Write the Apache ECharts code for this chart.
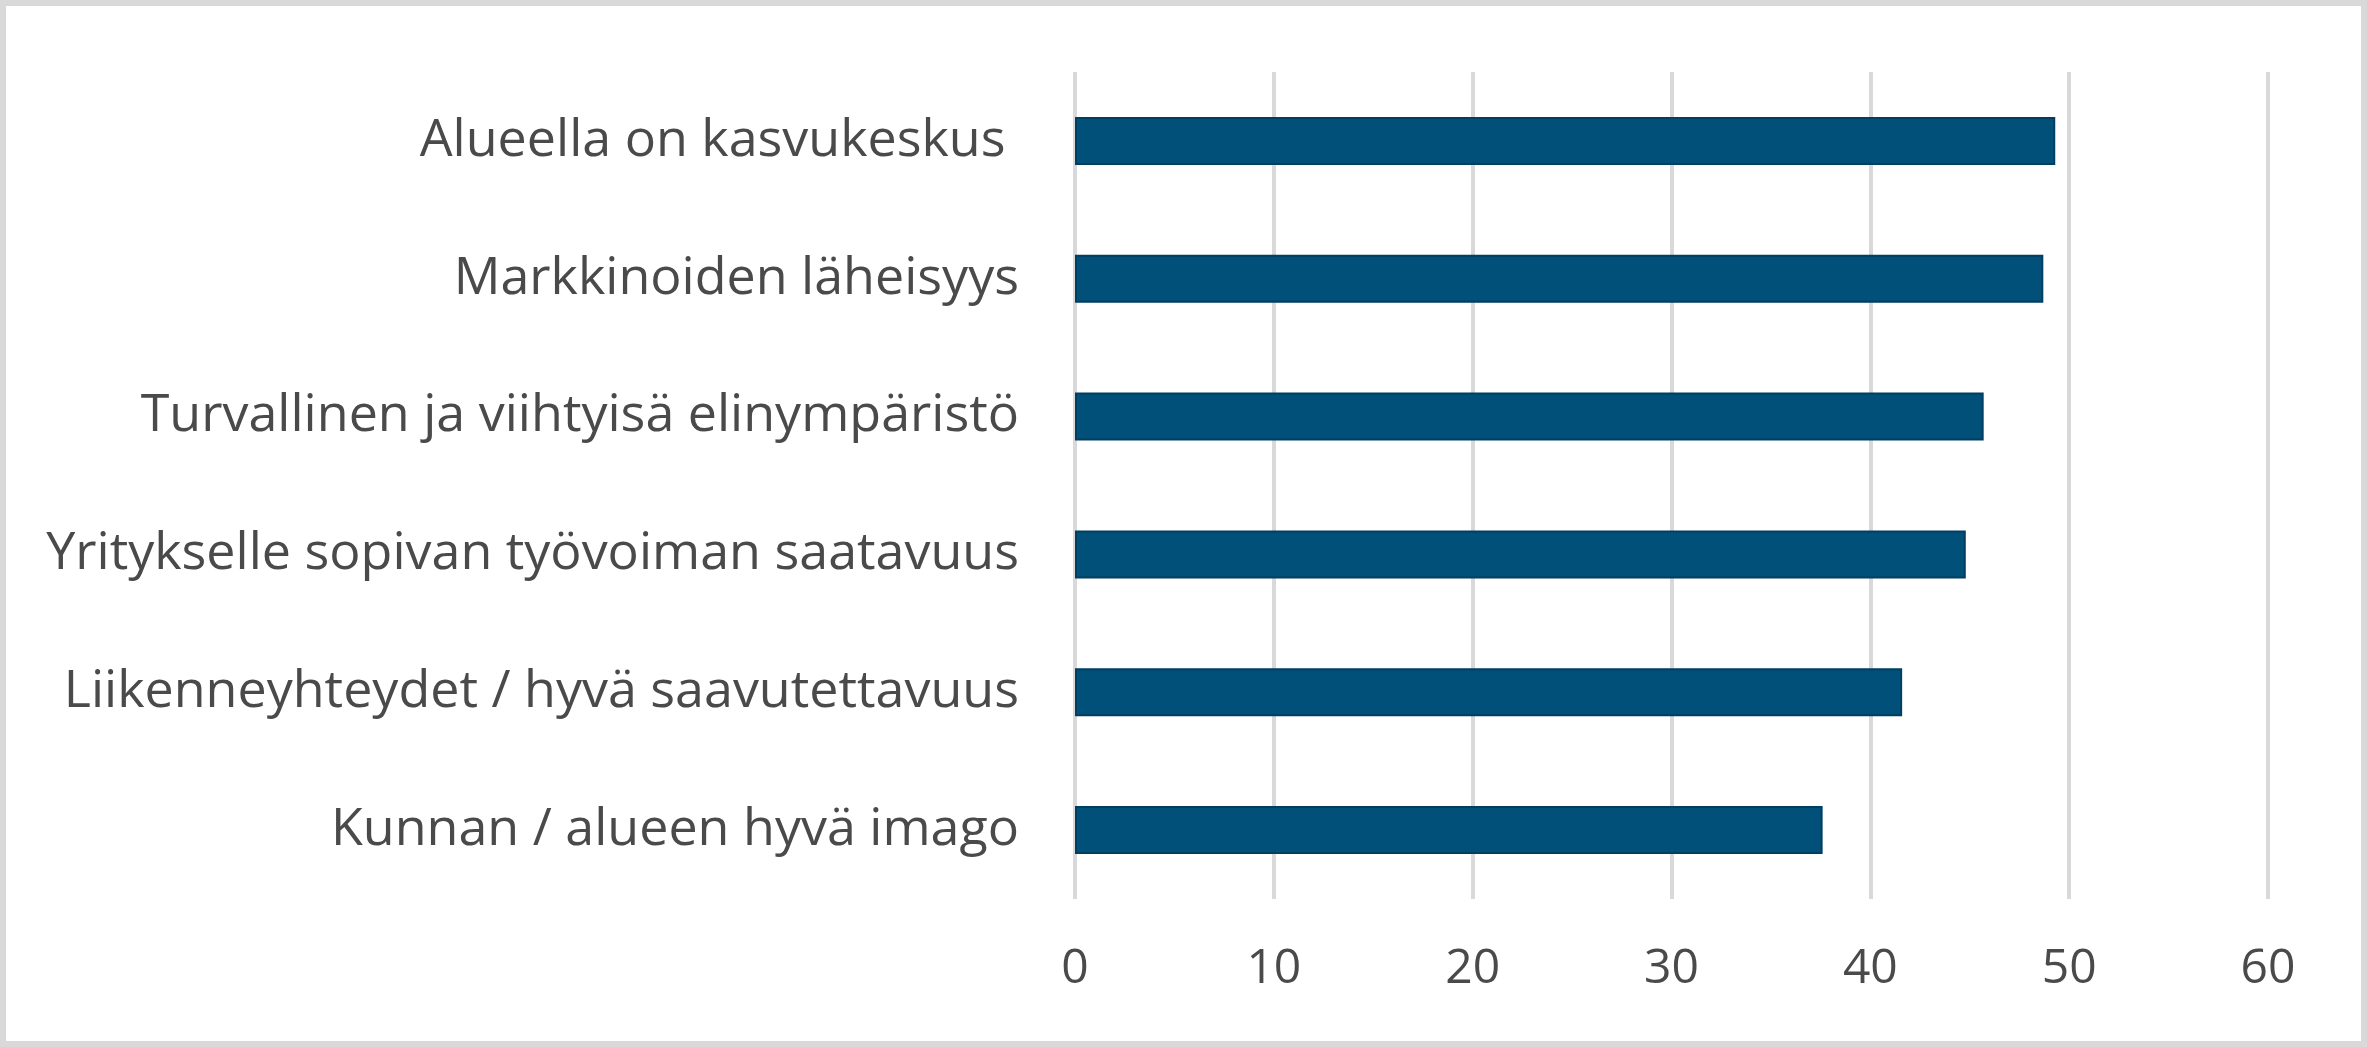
<!DOCTYPE html>
<html>
<head>
<meta charset="utf-8">
<script src="https://cdn.jsdelivr.net/npm/echarts@6/dist/echarts.min.js"></script>
<style>
html, body { margin: 0; padding: 0; background: #ffffff; }
#chart { width: 2367px; height: 1047px; }
</style>
</head>
<body>
<div id="chart"></div>
<script>
// kategoriat ylhäältä alas
var categories = [
	'Alueella on kasvukeskus ',
	'Markkinoiden läheisyys',
	'Turvallinen ja viihtyisä elinympäristö',
	'Yritykselle sopivan työvoiman saatavuus',
	'Liikenneyhteydet / hyvä saavutettavuus',
	'Kunnan / alueen hyvä imago'
];
var values = [49.3, 48.7, 45.7, 44.8, 41.6, 37.6];
var xTicks = [0, 10, 20, 30, 40, 50, 60];

var obj = echarts.init(document.getElementById('chart'));
var option = {
	animation : false,
	textStyle : {
		fontFamily : 'Open Sans'
	},
	graphic : [
		{
			type : 'rect',
			shape : { x : 3, y : 3, width : 2361, height : 1041 },
			style : { fill : 'none', stroke : '#d9d9d9', lineWidth : 6 },
			silent : true
		}
	],
	grid : {
		left : 1075,
		right : 99,
		top : 72,
		bottom : 148,
		containLabel : false
	},
	xAxis : {
		type : 'value',
		min : xTicks[0],
		max : xTicks[xTicks.length - 1],
		interval : 10,
		axisLine : { show : false },
		axisTick : { show : false },
		axisLabel : {
			color : '#4a4a4a',
			fontSize : 48,
			margin : 46,
			formatter : function(v) {
				return xTicks.indexOf(v) >= 0 ? String(v) : '';
			}
		},
		splitLine : {
			show : true,
			lineStyle : { color : '#d9d9d9', width : 4 }
		}
	},
	yAxis : {
		type : 'category',
		inverse : true,
		data : categories,
		axisLine : { show : false },
		axisTick : { show : false },
		axisLabel : {
			color : '#4a4a4a',
			fontSize : 52,
			margin : 56
		},
		splitLine : { show : false }
	},
	series : [
		{
			type : 'bar',
			data : values,
			barWidth : 48,
			itemStyle : {
				color : '#01507a',
				borderColor : '#003e62',
				borderWidth : 2
			}
		}
	]
};
obj.setOption(option);
</script>
</body>
</html>
